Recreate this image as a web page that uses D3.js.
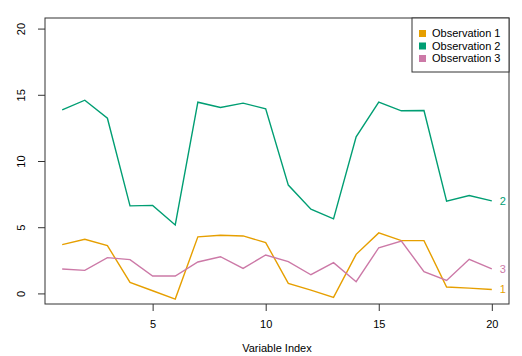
<!DOCTYPE html>
<html><head><meta charset="utf-8">
<script src="https://cdn.jsdelivr.net/npm/d3@7"></script>
<style>body{margin:0;background:#fff}svg{display:block;font-family:"Liberation Sans",Arial,sans-serif}</style>
</head><body><svg id="c" width="522" height="356"></svg>
<script>
const xIndex = d3.range(1, 21);
const seriesNames = ["Observation 1", "Observation 2", "Observation 3"];
const seriesLabels = ["1", "2", "3"];
const colors = ["#E69F00", "#009E73", "#CC79A7"];
const obs1 = [3.68,4.09,3.61,0.83,0.2,-0.43,4.27,4.39,4.34,3.84,0.76,0.25,-0.3,2.95,4.57,3.99,3.99,0.48,0.4,0.3];
const obs2 = [13.86,14.59,13.23,6.61,6.65,5.17,14.44,14.04,14.37,13.94,8.18,6.36,5.63,11.82,14.44,13.79,13.81,6.97,7.39,6.99];
const obs3 = [1.84,1.74,2.7,2.55,1.31,1.31,2.37,2.77,1.89,2.9,2.4,1.41,2.32,0.88,3.45,3.96,1.64,0.98,2.58,1.86];
const yTicks = [0,5,10,15,20];
const xTicks = [5,10,15,20];

const svg = d3.select("#c");
const L=45, R=509, T=18, B=304;
const x = d3.scaleLinear().domain([0.24,20.76]).range([L,R]);
const y = d3.scaleLinear().domain([-0.8,20.8]).range([B,T]);

const data = [obs1, obs2, obs3];
const line = d3.line().x((d,i)=>x(xIndex[i])).y(d=>y(d));
data.forEach((s,k)=>{
  svg.append("path").attr("d", line(s)).attr("fill","none")
    .attr("stroke", colors[k]).attr("stroke-width",1.4);
  svg.append("text").attr("x", x(20)+8).attr("y", y(s[19])).attr("dy","0.35em")
    .attr("fill", colors[k]).attr("font-size",11).text(seriesLabels[k]);
});

svg.append("rect").attr("x",L).attr("y",T).attr("width",R-L).attr("height",B-T)
  .attr("fill","none").attr("stroke","#333").attr("stroke-width",1);

const ya = svg.append("g").attr("transform",`translate(${L},0)`)
  .call(d3.axisLeft(y).tickValues(yTicks).tickSize(7).tickPadding(0).tickFormat(d3.format("d")));
ya.select(".domain").remove();
ya.selectAll(".tick line").attr("stroke","#333");
ya.selectAll(".tick text").attr("transform","rotate(-90)").attr("x",0).attr("y",-20)
  .attr("text-anchor","middle").attr("dy","0").attr("font-size",11).attr("fill","#000");

const xa = svg.append("g").attr("transform",`translate(0,${B})`)
  .call(d3.axisBottom(x).tickValues(xTicks).tickSize(7).tickPadding(9).tickFormat(d3.format("d")));
xa.select(".domain").remove();
xa.selectAll(".tick line").attr("stroke","#333");
xa.selectAll(".tick text").attr("font-size",11).attr("fill","#000");

svg.append("text").attr("x",(L+R)/2).attr("y",352).attr("text-anchor","middle")
  .attr("font-size",11).text("Variable Index");

const lg = svg.append("g");
lg.append("rect").attr("x",412).attr("y",T).attr("width",R-412).attr("height",54)
  .attr("fill","#fff").attr("stroke","#333").attr("stroke-width",1);
seriesNames.forEach((n,k)=>{
  const yy = 33.5 + k*12.5;
  lg.append("rect").attr("x",419).attr("y",yy-3.5).attr("width",7).attr("height",7).attr("fill",colors[k]);
  lg.append("text").attr("x",432).attr("y",yy).attr("dy","0.35em").attr("font-size",11).text(n);
});
</script></body></html>
